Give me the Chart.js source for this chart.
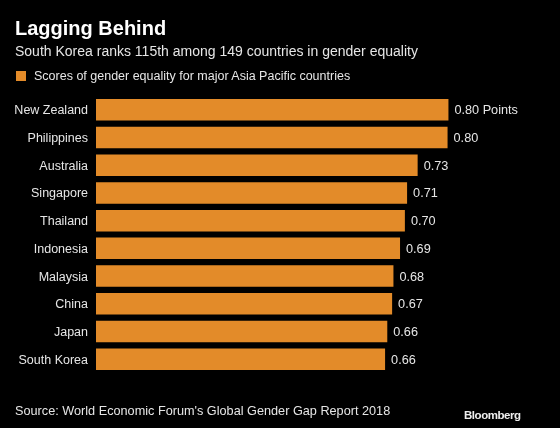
<!DOCTYPE html>
<html>
<head>
<meta charset="utf-8">
<script src="https://cdn.jsdelivr.net/npm/chart.js@4"></script>
<style>
  html, body { margin: 0; padding: 0; background: #000; }
  body { width: 560px; height: 428px; position: relative; overflow: hidden; font-family: 'Liberation Sans', Arial, sans-serif; }
  .txt { position: absolute; left: 15px; color: #e6e6e6; white-space: nowrap; }
  #title { top: 17px; font-size: 20px; font-weight: bold; color: #fff; }
  #subtitle { top: 43px; font-size: 14px; }
  #legend { top: 69px; left: 16px; font-size: 12.5px; }
  #legend span { display: inline-block; width: 10px; height: 10px; background: #e38b29; margin-right: 8px; vertical-align: -1px; }
  #source { top: 404px; font-size: 12.7px; }
  #brand { top: 409px; left: 464px; font-size: 11.5px; font-weight: bold; color: #eee; letter-spacing: -0.45px; }
  #wrap { position: absolute; left: 0; top: 0; width: 560px; height: 428px; }
</style>
</head>
<body>
<div id="wrap"><canvas id="genderChart" width="560" height="428"></canvas></div>
<div class="txt" id="title">Lagging Behind</div>
<div class="txt" id="subtitle">South Korea ranks 115th among 149 countries in gender equality</div>
<div class="txt" id="legend"><span></span>Scores of gender equality for major Asia Pacific countries</div>
<div class="txt" id="source">Source: World Economic Forum's Global Gender Gap Report 2018</div>
<div class="txt" id="brand">Bloomberg</div>
<script>
const countries = ['New Zealand', 'Philippines', 'Australia', 'Singapore', 'Thailand',
  'Indonesia', 'Malaysia', 'China', 'Japan', 'South Korea'];
const scores = [0.801, 0.799, 0.731, 0.707, 0.702, 0.691, 0.676, 0.673, 0.662, 0.657];
const valueLabels = ['0.80 Points', '0.80', '0.73', '0.71', '0.70', '0.69', '0.68', '0.67', '0.66', '0.66'];

const barColor = '#e38b29';
const labelColor = '#e6e6e6';
const fontFamily = "'Liberation Sans', Arial, sans-serif";

// country names left of the bars and scores right of them
const barLabelPlugin = {
  id: 'barLabels',
  afterDatasetsDraw(chart) {
    const ctx = chart.ctx;
    const meta = chart.getDatasetMeta(0);
    const yScale = chart.scales.y;
    ctx.save();
    ctx.fillStyle = labelColor;
    ctx.textBaseline = 'middle';
    ctx.font = `12.5px ${fontFamily}`;
    ctx.textAlign = 'right';
    countries.forEach((name, i) => {
      ctx.fillText(name, yScale.right - 8, yScale.getPixelForValue(i) + 1);
    });
    ctx.font = `12.7px ${fontFamily}`;
    ctx.textAlign = 'left';
    meta.data.forEach((bar, i) => {
      ctx.fillText(valueLabels[i], bar.x + 6, bar.y + 1);
    });
    ctx.restore();
  }
};

new Chart(document.getElementById('genderChart').getContext('2d'), {
  type: 'bar',
  data: {
    labels: countries,
    datasets: [{
      label: 'Scores of gender equality for major Asia Pacific countries',
      data: scores,
      backgroundColor: barColor,
      borderWidth: 0,
      categoryPercentage: 1,
      barPercentage: 0.775
    }]
  },
  options: {
    indexAxis: 'y',
    responsive: false,
    animation: false,
    layout: { padding: { top: 96, bottom: 55, left: 0, right: 68 } },
    plugins: {
      legend: { display: false },
      tooltip: { enabled: false }
    },
    scales: {
      x: {
        display: false,
        min: 0,
        max: 0.9
      },
      y: {
        grid: { display: false, drawTicks: false },
        border: { display: false },
        ticks: { display: false },
        afterFit(scale) { scale.width = 96; }
      }
    }
  },
  plugins: [barLabelPlugin]
});
</script>
</body>
</html>
